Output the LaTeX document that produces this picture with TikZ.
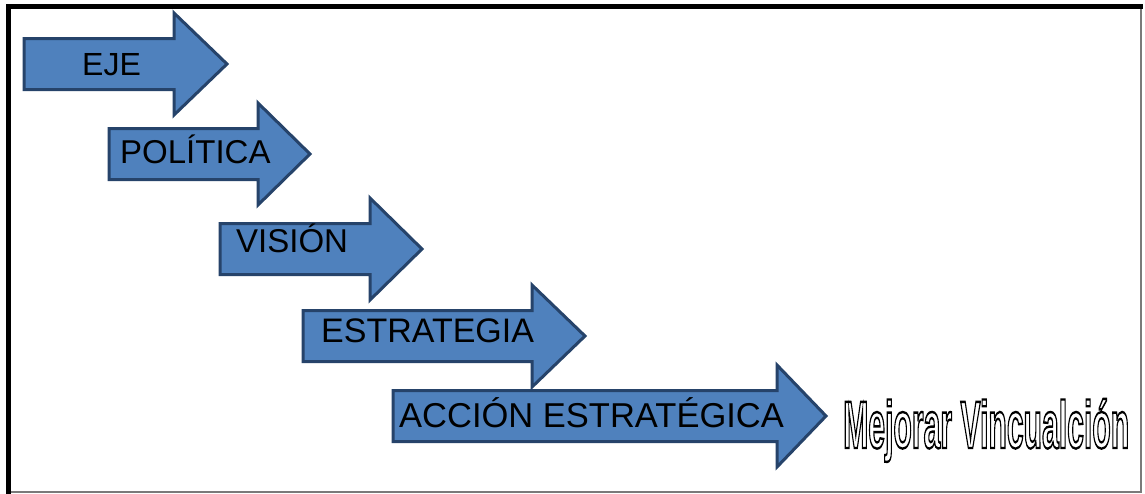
\documentclass[tikz,border=0pt]{standalone}
\usepackage{fontspec}
\setmainfont{Liberation Sans}
\usepackage{graphicx}
\definecolor{arrowfill}{HTML}{4F81BD}
\definecolor{arrowline}{HTML}{26436A}
\definecolor{framegray}{HTML}{7A7A7A}
\tikzset{
  bluearrow/.style={fill=arrowfill, draw=arrowline, line width=3pt, line join=miter},
  label/.style={anchor=base west, inner sep=0pt, font=\fontsize{33}{33}\selectfont, text=black},
  fs/.style={font=\fontsize{#1}{#1}\selectfont},
}
\newcommand{\outlinetext}[1]{\special{pdf:code q 1 Tr 2.4 w 0 0 0 RG}#1\special{pdf:code Q}}
% #1 body left, #2 head start, #3 tip x, #4 mid y
\newcommand{\blockarrow}[4]{%
  \draw[bluearrow] (#1,#4-25.5) -- (#2,#4-25.5) -- (#2,#4-51) -- (#3,#4) -- (#2,#4+51) -- (#2,#4+25.5) -- (#1,#4+25.5) -- cycle;}
\begin{document}
\begin{tikzpicture}[x=1pt,y=-1pt]
\useasboundingbox (0,0) rectangle (1145,493);
\fill[white] (0,0) rectangle (1145,493);
% frame
\draw[framegray, line width=2pt] (1141,6) -- (1141,492) -- (8,492);
\draw[black, line width=5pt] (8.5,494) -- (8.5,6.5) -- (1143,6.5);
% arrows
\blockarrow{24}{174}{227}{64}
\blockarrow{109}{258}{310}{154}
\blockarrow{220}{370}{422}{249}
\blockarrow{303}{532}{585}{336}
\blockarrow{393}{777}{826}{416}
% labels
\node[label, fs=32] (eje) at (82,75) {EJE};
\node[label, fs=33] (pol) at (120,163) {POLÍTICA};
\node[label, fs=33] (vis) at (236,252) {VISIÓN};
\node[label, fs=34] (est) at (321,342) {ESTRATEGIA};
\node[label, fs=34.5] (acc) at (399,427) {ACCIÓN ESTRATÉGICA};
\node[anchor=base west, inner sep=0pt] (goal) at (843,448)
  {\scalebox{0.45}[1]{\fontsize{67}{67}\selectfont\bfseries\outlinetext{Mejorar Vincualción}}};
\end{tikzpicture}
\end{document}
